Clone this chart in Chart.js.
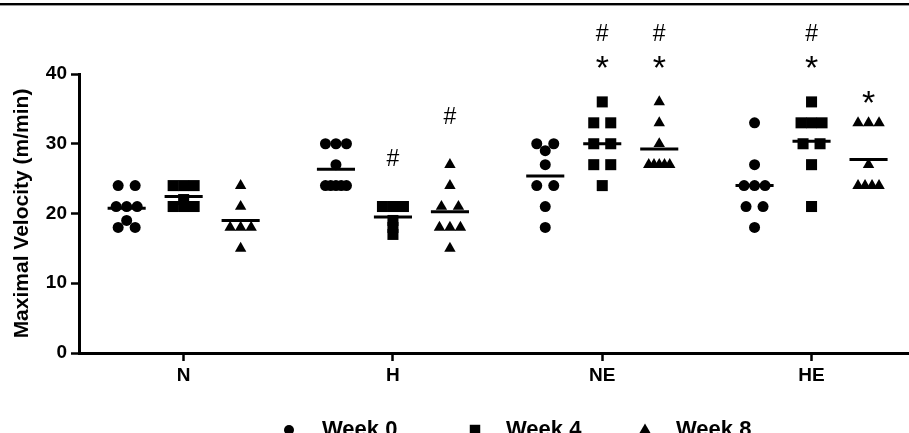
<!DOCTYPE html>
<html>
<head>
<meta charset="utf-8">
<script src="https://cdn.jsdelivr.net/npm/chart.js@4.4.0/dist/chart.umd.min.js"></script>
<style>
  html, body { margin: 0; padding: 0; background: #fff; overflow: hidden; }
  #wrap { position: relative; width: 909px; height: 433px; }
</style>
</head>
<body>
<div id="wrap"><canvas id="chart" width="909" height="433"></canvas></div>
<script>
// Groups and weeks
const groups = ['N', 'H', 'NE', 'HE'];
const weekLabels = ['Week 0', 'Week 4', 'Week 8'];

// Maximal velocity (m/min), one list per group
const week0 = [
    [24, 24, 21, 21, 21, 19, 18, 18],
    [30, 30, 30, 27, 24, 24, 24, 24, 24],
    [30, 30, 29, 27, 24, 24, 21, 18],
    [33, 27, 24, 24, 24, 21, 21, 18]
];
const week4 = [
    [24, 24, 24, 22, 21, 21, 21],
    [21, 21, 21, 19, 18, 17],
    [36, 33, 33, 30, 30, 27, 27, 24],
    [36, 33, 33, 33, 30, 30, 27, 21]
];
const week8 = [
    [24, 21, 18, 18, 18, 15],
    [27, 24, 21, 21, 18, 18, 18, 15],
    [36, 33, 30, 27, 27, 27, 27, 27],
    [33, 33, 33, 27, 24, 24, 24, 24]
];

const yTicks = [0, 10, 20, 30, 40];

// significance symbols: group, week index, symbol, height (m/min)
const sigGroup = ['H', 'H', 'NE', 'NE', 'NE', 'NE', 'HE', 'HE', 'HE'];
const sigWeek  = [1, 2, 1, 1, 2, 2, 1, 1, 2];
const sigText  = ['#', '#', '*', '#', '*', '#', '*', '#', '*'];
const sigY     = [28.1, 34.1, 41.75, 45.9, 41.75, 45.9, 41.75, 45.9, 36.7];

const FONT = 'Arial, "Liberation Sans", Helvetica, sans-serif';
const X_MAX = 3.9656;        // axis runs off the right edge
const WEEK_SHIFT = 0.2723;   // week column offset from group centre
const MEAN_HALF = 0.091;     // half length of mean bar

const series = [week0, week4, week8];
const styles = ['circle', 'rect', 'triangle'];
const radii = [5.5, 7.8, 6.6];

function mean(a) {
    return a.reduce((s, v) => s + v, 0) / a.length;
}

function colX(g, w) {
    return g + 0.5 + (w - 1) * WEEK_SHIFT;
}

// spread tied values side by side (pixels), like the Prism scatter
function tieOffsets(values) {
    const counts = {}, seen = {};
    values.forEach(v => counts[v] = (counts[v] || 0) + 1);
    return values.map(v => {
        const n = counts[v];
        const i = seen[v] = seen[v] === undefined ? 0 : seen[v] + 1;
        if (n === 1) return 0;
        const step = Math.min(17, 21 / (n - 1));
        return (i - (n - 1) / 2) * step;
    });
}

function buildPoints(pxPerUnit) {
    return series.map((s, w) => {
        const pts = [];
        s.forEach((vals, g) => {
            const offs = tieOffsets(vals);
            vals.forEach((v, i) => pts.push({ x: colX(g, w) + offs[i] / pxPerUnit, y: v }));
        });
        return pts;
    });
}

function drawMarker(ctx, style, x, y, r) {
    ctx.beginPath();
    if (style === 'circle') {
        ctx.arc(x, y, r, 0, Math.PI * 2);
    } else if (style === 'rect') {
        const s = r * Math.SQRT1_2;
        ctx.rect(x - s, y - s, 2 * s, 2 * s);
    } else {
        ctx.moveTo(x, y - r);
        ctx.lineTo(x + r * 0.866, y + r * 0.5);
        ctx.lineTo(x - r * 0.866, y + r * 0.5);
        ctx.closePath();
    }
    ctx.fill();
}

const datasets = [];
series.forEach((s, w) => {
    datasets.push({
        label: weekLabels[w],
        data: [],
        pointStyle: styles[w],
        pointRadius: radii[w],
        pointBackgroundColor: '#000',
        pointBorderWidth: 0,
        showLine: false,
        clip: false
    });
});
series.forEach((s, w) => {
    s.forEach((vals, g) => {
        const m = mean(vals);
        datasets.push({
            label: 'mean',
            data: [{ x: colX(g, w) - MEAN_HALF, y: m }, { x: colX(g, w) + MEAN_HALF, y: m }],
            showLine: true,
            borderColor: '#000',
            borderWidth: 3,
            pointRadius: 0,
            clip: false
        });
    });
});

const extras = {
    id: 'extras',
    afterDatasetsDraw(chart) {
        const ctx = chart.ctx;
        const xs = chart.scales.x, ys = chart.scales.y;
        ctx.save();
        ctx.fillStyle = '#000';
        // significance symbols
        sigText.forEach((t, i) => {
            const size = t === '*' ? 34 : 23;
            ctx.font = size + 'px ' + FONT;
            ctx.textAlign = 'center';
            ctx.textBaseline = 'alphabetic';
            const m = ctx.measureText(t);
            const px = xs.getPixelForValue(colX(groups.indexOf(sigGroup[i]), sigWeek[i]));
            const py = ys.getPixelForValue(sigY[i]);
            ctx.fillText(t, px, py + (m.actualBoundingBoxAscent - m.actualBoundingBoxDescent) / 2);
        });
        // legend, partly cut off at the bottom like the original
        const legX = [289, 475, 645];
        const txtX = [322, 506, 676];
        ctx.font = 'bold 22px ' + FONT;
        ctx.textAlign = 'left';
        weekLabels.forEach((lab, w) => {
            drawMarker(ctx, styles[w], legX[w], 430, w === 0 ? 5 : w === 1 ? 7.4 : 6.6);
            ctx.fillText(lab, txtX[w], 436);
        });
        // page rule at the very top
        ctx.fillRect(0, 3, chart.width, 2);
        ctx.fillStyle = '#999';
        ctx.fillRect(0, 5, chart.width, 1);
        ctx.restore();
    }
};

const chart = new Chart(document.getElementById('chart'), {
    type: 'scatter',
    data: { datasets: datasets },
    options: {
        responsive: false,
        animation: false,
        events: [],
        layout: { autoPadding: false, padding: { top: 74, bottom: 40, left: 0, right: 0 } },
        plugins: {
            legend: { display: false },
            tooltip: { enabled: false }
        },
        scales: {
            x: {
                type: 'linear',
                min: 0,
                max: X_MAX,
                afterBuildTicks: s => { s.ticks = groups.map((g, i) => ({ value: i + 0.5 })); },
                afterFit: s => { s.height = 40; s.paddingLeft = 0; s.paddingRight = 0; },
                ticks: {
                    callback: v => groups[Math.round(v - 0.5)],
                    font: { family: FONT, size: 19, weight: 'bold' },
                    color: '#000',
                    padding: 3,
                    maxRotation: 0,
                    autoSkip: false
                },
                grid: { drawOnChartArea: false, drawTicks: true, tickLength: 8, tickWidth: 2.5, tickColor: '#000' },
                border: { display: true, color: '#000', width: 3 }
            },
            y: {
                min: 0,
                max: 40,
                afterBuildTicks: s => { s.ticks = yTicks.map(v => ({ value: v })); },
                afterFit: s => { s.width = 79; },
                ticks: {
                    font: { family: FONT, size: 19, weight: 'bold' },
                    color: '#000',
                    padding: 4
                },
                grid: { drawOnChartArea: false, drawTicks: true, tickLength: 8, tickWidth: 2.5, tickColor: '#000' },
                border: { display: true, color: '#000', width: 3 },
                title: {
                    display: true,
                    text: 'Maximal Velocity (m/min)',
                    font: { family: FONT, size: 21, weight: 'bold' },
                    color: '#000',
                    padding: { top: 10, bottom: 0 }
                }
            }
        }
    },
    plugins: [extras]
});

// place the points once the x scale knows its pixel width
const pxPerUnit = chart.scales.x.width / (X_MAX - 0);
buildPoints(pxPerUnit).forEach((pts, w) => { chart.data.datasets[w].data = pts; });
chart.update('none');
</script>
</body>
</html>
